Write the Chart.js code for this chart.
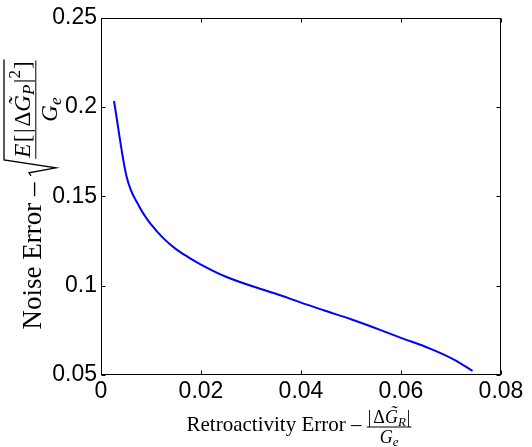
<!DOCTYPE html>
<html>
<head>
<meta charset="utf-8">
<script src="https://cdn.jsdelivr.net/npm/chart.js@4.4.1/dist/chart.umd.min.js"></script>
<style>
  html, body { margin: 0; padding: 0; background: #fff; }
  #chart { display: block; }
</style>
</head>
<body>
<canvas id="chart" width="532" height="447"></canvas>
<script>
// values
const retroError = [0.0026, 0.0051, 0.0077, 0.0101, 0.0126, 0.0150, 0.0175, 0.0199, 0.0250,
  0.0318, 0.0350, 0.0400, 0.0448, 0.0500, 0.0558, 0.0600, 0.0658, 0.0705, 0.0743];
const noiseError = [0.2034, 0.1613, 0.1441, 0.1340, 0.1262, 0.1205, 0.1159, 0.1120, 0.1050,
  0.0983, 0.0955, 0.0905, 0.0860, 0.0812, 0.0753, 0.0708, 0.0648, 0.0588, 0.0523];
const xTicks = [0, 0.02, 0.04, 0.06, 0.08];
const yTicks = [0.05, 0.1, 0.15, 0.2, 0.25];

const SERIF = '"Liberation Serif", "DejaVu Serif", serif';
const SANS = '"Liberation Sans", Arial, sans-serif';

// draw a run of math pieces, returns width
function run(ctx, x, y, pieces, draw) {
  let w = 0;
  pieces.forEach(p => {
    ctx.font = p.f;
    const pw = ctx.measureText(p.t).width;
    if (draw) {
      ctx.fillText(p.t, x + w, y + (p.dy || 0));
      if (p.tilde) {
        ctx.textAlign = "center";
        ctx.fillText("\u02DC", x + w + pw / 2 + p.tilde, y - p.th);
        ctx.textAlign = "left";
      }
    }
    w += pw + (p.gap || 0);
  });
  return w;
}

function frac(ctx, x, base, num, den, k, draw) {
  const wn = run(ctx, 0, 0, num, false);
  const wd = run(ctx, 0, 0, den, false);
  const w = Math.max(wn, wd) + 2;
  if (draw) {
    const axis = base - 4 * k;
    run(ctx, x + (w - wn) / 2, axis - 4.5 * k, num, true);
    run(ctx, x + (w - wd) / 2, axis + 16 * k, den, true);
    ctx.fillRect(x, axis - 0.5, w, 1);
  }
  return w;
}

function fonts(k) {
  return {
    main: Math.round(21 * k) + "px " + SERIF,
    m: Math.round(18 * k) + "px " + SERIF,
    i: "italic " + Math.round(18 * k) + "px " + SERIF,
    s: "italic " + Math.round(13 * k) + "px " + SERIF,
    r: Math.round(13 * k) + "px " + SERIF
  };
}

const kx = 1, ky = 1.3;
const fx = fonts(kx), fy = fonts(ky);
const xNum = [{t: "|", f: fx.m, gap: 2}, {t: "\u0394", f: fx.m}, {t: "G", f: fx.i, tilde: 2, th: 4},
  {t: "R", f: fx.s, dy: 3, gap: 1}, {t: "|", f: fx.m}];
const xDen = [{t: "G", f: fx.i}, {t: "e", f: fx.s, dy: 3}];
const yNum = [{t: "E", f: fy.i, gap: 1.5}, {t: "[", f: fy.m, gap: 1.5}, {t: "|", f: fy.m, gap: 2},
  {t: "\u0394", f: fy.m}, {t: "G", f: fy.i, tilde: 2, th: 5},
  {t: "P", f: fy.s, dy: 4, gap: 1.5}, {t: "|", f: fy.m}, {t: "2", f: fy.r, dy: -10, gap: 1}, {t: "]", f: fy.m}];
const yDen = [{t: "G", f: fy.i}, {t: "e", f: fy.s, dy: 4}];

function xTitle(ctx, draw, x, base) {
  ctx.font = fx.main;
  const lead = "Retroactivity Error \u2013 ";
  const lw = ctx.measureText(lead).width;
  if (draw) ctx.fillText(lead, x, base);
  return lw + frac(ctx, x + lw, base, xNum, xDen, kx, draw);
}

function yTitle(ctx, draw, x, base) {
  ctx.font = fy.main;
  const lead = "Noise Error \u2013 ";
  const lw = ctx.measureText(lead).width;
  if (draw) ctx.fillText(lead, x, base);
  const rw = 17;
  const sx = x + lw;
  const fw = frac(ctx, sx + rw, base, yNum, yDen, ky, draw);
  if (draw) {
    const top = base - 37;
    ctx.lineWidth = 1.3;
    ctx.beginPath();
    ctx.moveTo(sx, base - 10);
    ctx.lineTo(sx + 3, base - 12);
    ctx.lineTo(sx + 8, base + 15);
    ctx.lineTo(sx + rw - 1, top);
    ctx.lineTo(sx + rw + fw + 1, top);
    ctx.stroke();
  }
  return lw + rw + fw;
}

const decor = {
  id: "decor",
  afterDraw(chart) {
    const ctx = chart.ctx;
    const a = chart.chartArea;
    const sx = chart.scales.x, sy = chart.scales.y;
    ctx.save();
    ctx.strokeStyle = "#000";
    ctx.fillStyle = "#000";
    ctx.lineWidth = 1;
    const L = Math.round(a.left) + 0.5, R = Math.round(a.right) - 0.5;
    const T = Math.round(a.top) + 0.5, B = Math.round(a.bottom) - 0.5;
    ctx.strokeRect(L, T, R - L, B - T);
    ctx.beginPath();
    xTicks.forEach(v => {
      const px = Math.round(sx.getPixelForValue(v)) + 0.5;
      ctx.moveTo(px, B); ctx.lineTo(px, B - 4);
      ctx.moveTo(px, T); ctx.lineTo(px, T + 4);
    });
    yTicks.forEach(v => {
      const py = Math.round(sy.getPixelForValue(v)) + 0.5;
      ctx.moveTo(L, py); ctx.lineTo(L + 4, py);
      ctx.moveTo(R, py); ctx.lineTo(R - 4, py);
    });
    ctx.stroke();

    ctx.textAlign = "left";
    ctx.textBaseline = "alphabetic";
    // x title
    const xw = xTitle(ctx, false, 0, 0);
    xTitle(ctx, true, (a.left + a.right) / 2 - xw / 2 - 2, 431);
    // y title, rotated
    const yw = yTitle(ctx, false, 0, 0);
    ctx.translate(41, 195);
    ctx.rotate(-Math.PI / 2);
    yTitle(ctx, true, -yw / 2, 0);
    ctx.restore();
  }
};

const fmt = v => String(parseFloat(Number(v).toFixed(4)));

new Chart(document.getElementById("chart"), {
  type: "scatter",
  data: {
    datasets: [{
      data: retroError.map((x, i) => ({x: x, y: noiseError[i]})),
      showLine: true,
      borderColor: "#0000ff",
      borderWidth: 2,
      pointRadius: 0,
      cubicInterpolationMode: "monotone"
    }]
  },
  options: {
    responsive: false,
    animation: false,
    devicePixelRatio: 1,
    layout: { padding: { top: 8, right: 31, left: 0, bottom: 0 } },
    plugins: { legend: { display: false }, tooltip: { enabled: false } },
    scales: {
      x: {
        type: "linear", min: 0, max: 0.08,
        afterBuildTicks: s => { s.ticks = xTicks.map(v => ({value: v})); },
        afterFit: s => { s.height = 72; },
        grid: { display: false, drawTicks: false },
        border: { display: false },
        ticks: { color: "#000", font: { family: SANS, size: 23 }, padding: 3, maxRotation: 0, callback: fmt }
      },
      y: {
        type: "linear", min: 0.05, max: 0.25,
        afterBuildTicks: s => { s.ticks = yTicks.map(v => ({value: v})); },
        afterFit: s => { s.width = 101; },
        grid: { display: false, drawTicks: false },
        border: { display: false },
        ticks: { color: "#000", font: { family: SANS, size: 23 }, padding: 4, callback: fmt }
      }
    }
  },
  plugins: [decor]
});
</script>
</body>
</html>
